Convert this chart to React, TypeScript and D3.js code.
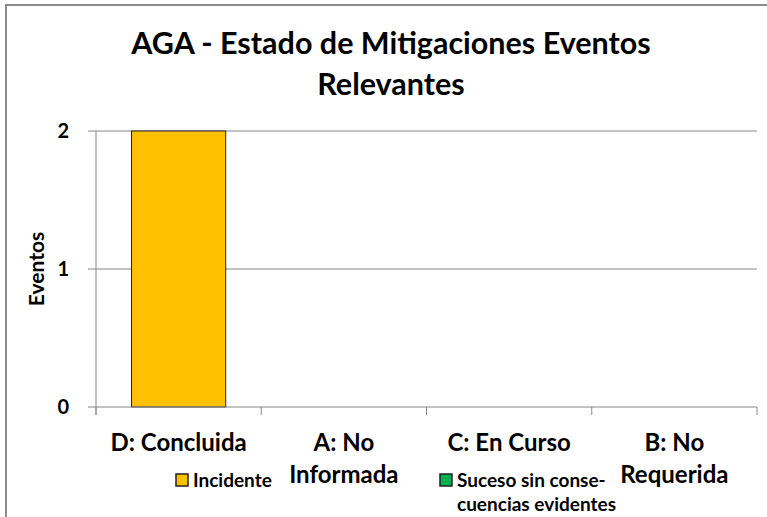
import * as d3 from "d3";

const categories = ["D: Concluida", "A: No Informada", "C: En Curso", "B: No Requerida"];
const categoryLines = [["D: Concluida"], ["A: No", "Informada"], ["C: En Curso"], ["B: No", "Requerida"]];
const seriesNames = ["Incidente", "Suceso sin consecuencias evidentes"];
const legendLines = [["Incidente"], ["Suceso sin conse-", "cuencias evidentes"]];
const incidente = [2, 0, 0, 0];
const suceso = [0, 0, 0, 0];
const yTicks = [0, 1, 2];
const titleLines = ["AGA - Estado de Mitigaciones Eventos", "Relevantes"];

const colors = ["#FFC000", "#00B050"];
const font = "Lato, 'Open Sans', sans-serif";

const W = 767;
const H = 517;
const margin = { left: 96, right: 10, top: 131, bottom: 110 };

const App = () => {
  const x = d3
    .scaleBand<string>()
    .domain(categories)
    .range([margin.left, W - margin.right])
    .padding(0);
  const y = d3
    .scaleLinear()
    .domain([0, 2])
    .range([H - margin.bottom, margin.top]);

  const rows = categories.map((c, i) => ({
    cat: c,
    [seriesNames[0]]: incidente[i],
    [seriesNames[1]]: suceso[i],
  }));
  const stacked = d3.stack<any>().keys(seriesNames)(rows);

  const barW = x.bandwidth() * 0.57;
  const y0 = y(0);
  const left = margin.left;
  const right = W - margin.right;
  const boundaries = categories.map((c) => x(c)!).concat([right]);

  return (
    <svg
      width={W}
      height={H}
      style={{ position: "absolute", left: 0, top: 0, background: "#fff" }}
      fontFamily={font}
    >
      <rect x={6} y={5} width={900} height={700} fill="#fff" stroke="#8c8c8c" strokeWidth={2} />

      {titleLines.map((t, i) => (
        <text
          key={t}
          x={391}
          y={54 + i * 41}
          textAnchor="middle"
          fontSize={30.5}
          fontWeight="bold"
          fill="#000"
        >
          {t}
        </text>
      ))}

      {/* gridlines */}
      {yTicks
        .filter((t) => t > 0)
        .map((t) => (
          <line key={t} x1={left - 8} x2={right} y1={y(t)} y2={y(t)} stroke="#868686" strokeWidth={1} />
        ))}

      {/* bars */}
      {stacked.map((s, si) =>
        s.map((d, i) =>
          d[1] - d[0] > 0 ? (
            <rect
              key={`${si}-${i}`}
              x={x(categories[i])! + (x.bandwidth() - barW) / 2}
              y={y(d[1])}
              width={barW}
              height={y(d[0]) - y(d[1])}
              fill={colors[si]}
              stroke="#222"
              strokeWidth={1}
            />
          ) : null
        )
      )}

      {/* axes */}
      <line x1={left} x2={left} y1={y(2)} y2={y0 + 8} stroke="#868686" strokeWidth={1} />
      <line x1={left - 8} x2={right} y1={y0} y2={y0} stroke="#868686" strokeWidth={1} />
      {boundaries.map((b, i) => (
        <line key={i} x1={b} x2={b} y1={y0} y2={y0 + 8} stroke="#868686" strokeWidth={1} />
      ))}

      {yTicks.map((t) => (
        <text key={t} x={69} y={y(t) + 7} textAnchor="end" fontSize={20} fontWeight="bold" fill="#000">
          {t}
        </text>
      ))}

      <text
        transform={`translate(44, ${(y(0) + y(2)) / 2}) rotate(-90)`}
        textAnchor="middle"
        fontSize={21}
        fontWeight="bold"
        fill="#000"
      >
        Eventos
      </text>

      {categoryLines.map((lines, i) =>
        lines.map((l, j) => (
          <text
            key={`${i}-${j}`}
            x={x(categories[i])! + x.bandwidth() / 2}
            y={451 + j * 32}
            textAnchor="middle"
            fontSize={24}
            fontWeight="bold"
            fill="#000"
          >
            {l}
          </text>
        ))
      )}

      {/* legend */}
      {legendLines.map((lines, i) => {
        const lx = i === 0 ? 176 : 440;
        return (
          <g key={i}>
            <rect x={lx} y={474} width={12} height={12} fill={colors[i]} stroke="#222" strokeWidth={1.5} />
            {lines.map((l, j) => (
              <text key={j} x={lx + 17} y={487 + j * 24} fontSize={19} fontWeight="bold" fill="#000">
                {l}
              </text>
            ))}
          </g>
        );
      })}
    </svg>
  );
};

export default App;
